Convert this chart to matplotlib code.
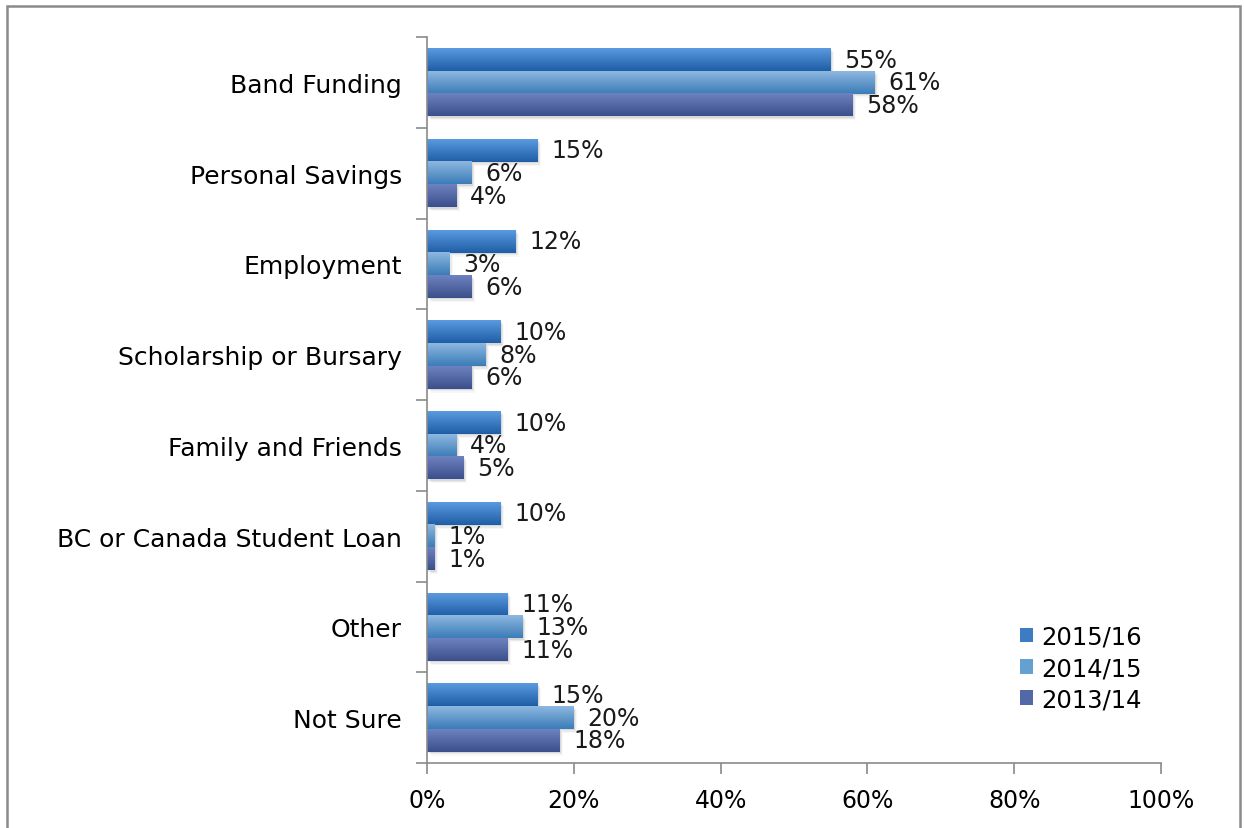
import numpy as np
import matplotlib.pyplot as plt
from matplotlib.colors import LinearSegmentedColormap
from matplotlib.patches import Rectangle, Patch

plt.rcParams['font.family'] = ['DejaVu Sans']

# Funding sources and share of respondents per year
categories = ['Band Funding', 'Personal Savings', 'Employment', 'Scholarship or Bursary',
              'Family and Friends', 'BC or Canada Student Loan', 'Other', 'Not Sure']
years = ['2015/16', '2014/15', '2013/14']
v_2015 = [55, 15, 12, 10, 10, 10, 11, 15]
v_2014 = [61, 6, 3, 8, 4, 1, 13, 20]
v_2013 = [58, 4, 6, 6, 5, 1, 11, 18]
series = [v_2015, v_2014, v_2013]

# top / bottom colours of each gradient bar
grads = [('#5a9ae0', '#1f5ea6'),
         ('#8db8e0', '#3b7cb8'),
         ('#6d82bf', '#3a4f8c')]

fig = plt.figure(figsize=(12.44, 8.29), dpi=100)
ax = fig.add_axes([427 / 1244, 1 - 764 / 829, (1161 - 427) / 1244, (764 - 38) / 829])

# outer frame
fig.patches.append(Rectangle((7 / 1244, -0.01), (1240 - 7) / 1244, 1 - 7 / 829 + 0.01,
                             transform=fig.transFigure, fill=False,
                             edgecolor='#8a8a8a', linewidth=1.8))

h = 0.25
y = np.arange(len(categories))
offsets = [-h, 0, h]

for vals, off, (c_top, c_bot), name in zip(series, offsets, grads, years):
    cmap = LinearSegmentedColormap.from_list(name, [c_top, c_bot])
    grad = np.linspace(0, 1, 64).reshape(-1, 1)
    for yi, v in zip(y, vals):
        y0 = yi + off - h / 2
        # soft drop shadow
        for k, a in enumerate([0.07, 0.05, 0.03]):
            d = 0.015 * (k + 1)
            ax.add_patch(Rectangle((0.2 + k * 0.15, y0 + d), v, h, facecolor='#000000',
                                   alpha=a, linewidth=0, zorder=1))
        ax.imshow(grad, cmap=cmap, aspect='auto', interpolation='bilinear',
                  extent=(0, v, y0 + h, y0), zorder=2)
        ax.annotate(f'{v}%', (v, yi + off), xytext=(10, 0), textcoords='offset points',
                    va='center', ha='left', fontsize=17, color='#1a1a1a', zorder=3)

ax.set_xlim(0, 100)
ax.set_ylim(len(categories) - 0.5, -0.5)
ax.set_xticks(np.arange(0, 101, 20))
ax.set_xticklabels([f'{t}%' for t in range(0, 101, 20)])
ax.set_yticks(y)
ax.set_yticklabels(categories)
ax.set_yticks(np.arange(len(categories) + 1) - 0.5, minor=True)
ax.tick_params(axis='y', which='major', length=0, pad=18, labelsize=18)
ax.tick_params(axis='y', which='minor', length=8, color='#8a8a8a', width=1.2)
ax.tick_params(axis='x', length=8, color='#8a8a8a', width=1.2, labelsize=17, pad=10)
for s in ['top', 'right']:
    ax.spines[s].set_visible(False)
for s in ['left', 'bottom']:
    ax.spines[s].set_color('#8a8a8a')
    ax.spines[s].set_linewidth(1.2)

mids = ['#3b7cc3', '#64a0d0', '#5368a6']
handles = [Patch(facecolor=c, label=name) for c, name in zip(mids, years)]
ax.legend(handles=handles, loc='lower right', bbox_to_anchor=(1.004, 0.041), frameon=False,
          fontsize=17.5, handlelength=0.55, handleheight=0.55, handletextpad=0.35,
          labelspacing=0.3)

fig.savefig('out.png', dpi=100)
